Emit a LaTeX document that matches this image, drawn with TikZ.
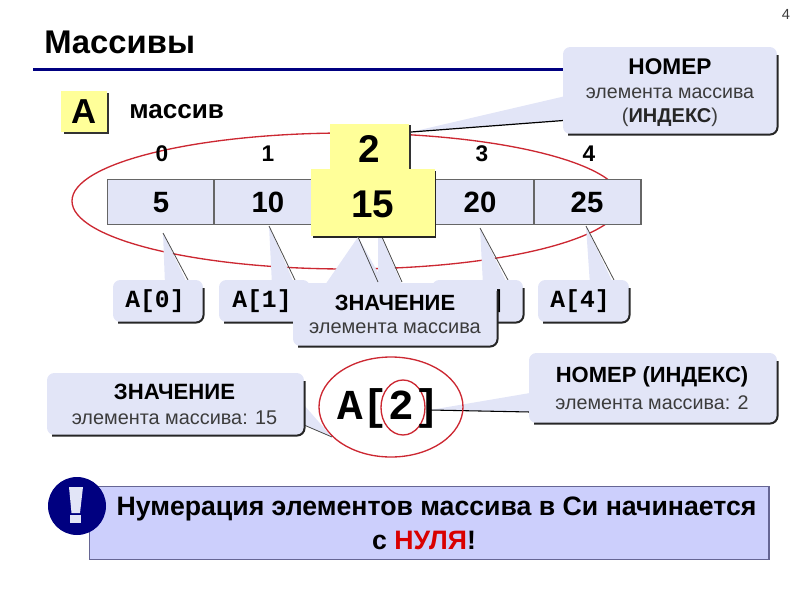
\documentclass[tikz,border=0pt]{standalone}
\usepackage{fontspec}
\setmainfont{Liberation Sans}
\setmonofont{Liberation Mono}
\definecolor{lav}{RGB}{226,229,247}
\definecolor{yel}{RGB}{255,255,153}
\definecolor{navy2}{RGB}{0,0,128}
\definecolor{note}{RGB}{204,207,252}
\definecolor{redl}{RGB}{204,40,50}
\definecolor{graytxt}{RGB}{60,60,60}
\tikzset{
  shadowline/.style={draw=black!85,line width=1.5pt,rounded corners=5.5pt},
  txt/.style={inner sep=0pt,anchor=center,align=center},
  cell/.style={draw=black!60,line width=.8pt,fill=lav},
  ring/.style={draw=redl,line width=1pt},
  leader/.style={draw=black!70,line width=.6pt},
}
\newcommand{\fs}[1]{\fontsize{#1}{#1}\selectfont}
\newcommand{\callbox}[4]{%
  \fill[lav,rounded corners=5.5pt] (#1,#2) rectangle (#3,#4);
  \draw[shadowline] (#3+.5,#2+8) -- (#3+.5,#4+.5) -- (#1+5,#4+.5);
}
\begin{document}
\begin{tikzpicture}[x=.75pt,y=-.75pt]
\useasboundingbox (0,0) rectangle (800,600);
% title
\node[txt,anchor=west] (title) at (44,42) {\fs{24.6}\bfseries Массивы};
\draw[navy2,line width=1.6pt] (33,69.5) -- (570,69.5);
\node[txt] (pg) at (786,14) {\fs{11}\color{graytxt}4};
% A
\fill[black!80] (64,93) rectangle (108.5,133.5);
\fill[yel] (61,91) rectangle (107,132);
\node[txt] (alabel) at (84,112) {\fs{26}\bfseries A};
\node[txt,anchor=west] (mass) at (129,112) {\fs{19.6}\bfseries массив};
% big ellipse
\draw[ring] (347,201) ellipse [x radius=275,y radius=68];
% indices
\node[txt] (i0) at (162,154) {\fs{17}\bfseries 0};
\node[txt] (i1) at (268,154) {\fs{17}\bfseries 1};
\node[txt] (i3) at (482,154) {\fs{17}\bfseries 3};
\node[txt] (i4) at (589,154) {\fs{17}\bfseries 4};
% cells
\draw[cell] (107.5,179.5) rectangle (641,224.5);
\draw[draw=black!60,line width=.8pt] (214,179.5) -- (214,224.5) (534,179.5) -- (534,224.5) (427,179.5) -- (427,224.5);
\node[txt] (c0) at (161,202.5) {\fs{22}\bfseries 5};
\node[txt] (c1) at (268,202.5) {\fs{22}\bfseries 10};
\node[txt] (c3) at (480,202.5) {\fs{22}\bfseries 20};
\node[txt] (c4) at (587,202.5) {\fs{22}\bfseries 25};
% pointers A[i]
\coordinate (p0) at (163,233); \coordinate (p1) at (269,226); \coordinate (p3) at (480,228);
\coordinate (p4) at (586,226); \coordinate (p2a) at (378,228);
\fill[lav] (p0) -- (165,285) -- (188,285) -- cycle;
\draw[leader] (p0) -- (188,280);
\fill[lav] (p1) -- (272,285) -- (295,285) -- cycle;
\draw[leader] (p1) -- (295,280);
\fill[lav] (p3) -- (483,285) -- (508,285) -- cycle;
\draw[leader] (p3) -- (508,280);
\fill[lav] (p4) -- (590,285) -- (614,285) -- cycle;
\draw[leader] (p4) -- (614,280);
\fill[lav] (p2a) -- (378,285) -- (402,285) -- cycle;
\draw[leader] (p2a) -- (402,282);
\callbox{113}{280}{203}{322}
\callbox{219}{280}{310}{322}
\callbox{432}{280}{523}{322}
\callbox{538}{280}{629}{322}
\node[txt] (a0) at (155,301) {\fs{18.5}\ttfamily\bfseries A[0]};
\node[txt] (a1) at (262,301) {\fs{18.5}\ttfamily\bfseries A[1]};
\node[txt] (a3) at (475,301) {\fs{18.5}\ttfamily\bfseries A[3]};
\node[txt] (a4) at (580,301) {\fs{18.5}\ttfamily\bfseries A[4]};
% yellow 2
\fill[black!80] (333,125) rectangle (410.5,170);
\fill[yel] (330,124) rectangle (408.5,170);
\node[txt] (two) at (369,149) {\fs{29}\bfseries 2};
% yellow 15
\fill[black!85] (313,171) rectangle (436,238);
\fill[yel] (311,169) rectangle (434.5,236);
\node[txt] (fif) at (373,204.5) {\fs{29}\bfseries 15};
% znachenie callout
\coordinate (zp) at (358,237);
\fill[lav] (zp) -- (325,285) -- (385,285) -- cycle;
\draw[leader] (zp) -- (378,282);
\callbox{293}{283}{497}{346}
\node[txt] (z1) at (395,302.5) {\fs{16.5}\bfseries ЗНАЧЕНИЕ};
\node[txt] (z2) at (395,328.5) {\fs{15}\color{graytxt}элемента массива};
% Nomer callout
\coordinate (np) at (411,132);
\fill[lav] (np) -- (570,95) -- (570,120) -- cycle;
\draw[black,line width=.9pt] (np) -- (570,120);
\callbox{563}{47}{777}{134}
\node[txt] (n1) at (670,67) {\fs{17}\bfseries НОМЕР};
\node[txt] (n2) at (670,93) {\fs{14.7}\color{graytxt}элемента массива};
\node[txt] (n3) at (670,117) {\fs{15}\color{graytxt}(\textcolor{black!85}{\bfseries ИНДЕКС})};
% nomer 2 pointer, below the rings
\coordinate (ip) at (430,410);
\fill[lav] (ip) -- (530,393) -- (530,412) -- cycle;
\draw[black,line width=.8pt] (ip) -- (530,412);
% A[2]
\draw[ring] (391,407) ellipse [x radius=72,y radius=50];
\draw[ring] (403,407.5) ellipse [x radius=22,y radius=27.5];
\node[txt] (a2) at (388.5,408) {\fs{32}\ttfamily\bfseries A[2]};
% znachenie 15
\coordinate (vp) at (332,437);
\fill[lav] (304,405) -- (vp) -- (304,425) -- cycle;
\draw[leader] (304,425) -- (vp);
\callbox{47}{373}{304}{435}
\node[txt] (v1) at (174.5,392) {\fs{16.6}\bfseries ЗНАЧЕНИЕ};
\node[txt] (v2) at (174.5,418) {\fs{14.9}\color{graytxt}элемента массива: 15};
% nomer 2
\callbox{529}{353}{777}{423}
\node[txt] (w1) at (652,377) {\fs{16.5}\bfseries НОМЕР (ИНДЕКС)};
\node[txt] (w2) at (652,403) {\fs{14.8}\color{graytxt}элемента массива: 2};
% note
\draw[draw=black!40!navy2!60,fill=note,line width=.8pt] (89.5,486.5) rectangle (769,559.5);
\fill[navy2] (77,506) circle (29);
\fill[lav] (69,487) -- (83,487) -- (80,513) -- (71.5,513) -- cycle;
\fill[lav] (70,515) rectangle (81,523);
\node[txt] (nt1) at (436.5,509) {\fs{20}\bfseries Нумерация элементов массива в Си начинается};
\node[txt] (nt2) at (424,540) {\fs{20}\bfseries с \textcolor{red!85!black}{НУЛЯ}!};
\end{tikzpicture}
\end{document}
